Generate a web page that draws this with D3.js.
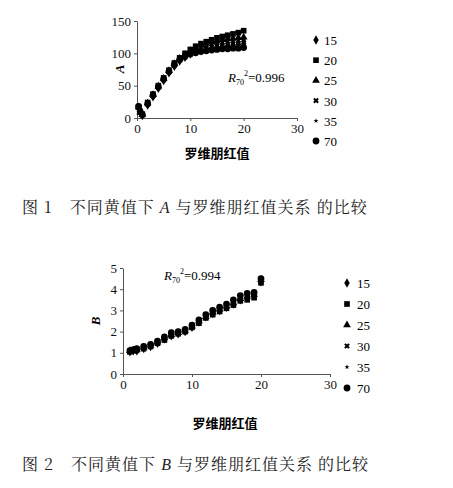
<!DOCTYPE html>
<html><head><meta charset="utf-8">
<script src="https://cdn.jsdelivr.net/npm/d3@7"></script>
<style>body{margin:0;background:#fff}</style></head>
<body><svg id="c" width="453" height="488"></svg>
<script>
const seriesNames = ['15', '20', '25', '30', '35', '70'];
const xA = [0.3, 0.6, 1, 2, 3, 4, 5, 6, 7, 8, 9, 10, 11, 12, 13, 14, 15, 16, 17, 18, 19, 20];
const A15 = [16, 9, 4, 20, 33, 46, 58, 70, 80, 88, 94, 99, 102, 104, 106, 108, 110, 111, 112, 113, 114, 115];
const A20 = [17, 10, 6, 24, 37, 50, 62, 74, 85, 93, 100, 106, 111, 115, 118, 121, 124, 126, 128, 130, 132, 135];
const A25 = [17, 9, 5, 23, 36, 49, 61, 73, 84, 92, 98, 104, 108, 112, 115, 117, 119, 121, 122, 123, 124, 125];
const A30 = [16, 9, 5, 22, 35, 48, 60, 72, 83, 91, 97, 102, 106, 109, 112, 114, 116, 117, 118, 119, 120, 121];
const A35 = [17, 10, 5, 21, 34, 47, 59, 71, 82, 90, 96, 101, 104, 107, 109, 111, 112, 113, 114, 115, 116, 117];
const A70 = [18, 10, 5, 22, 35, 48, 60, 72, 82, 90, 95, 99, 101, 103, 104, 105, 106, 107, 107, 108, 108, 109];
const xB = [1, 1.5, 2, 3, 4, 5, 6, 7, 8, 9, 10, 11, 12, 13, 14, 15, 16, 17, 18, 19, 20];
const B15 = [1.05, 1.1, 1.1, 1.2, 1.3, 1.45, 1.65, 1.8, 1.9, 2.0, 2.2, 2.45, 2.7, 2.85, 3.0, 3.15, 3.3, 3.5, 3.6, 3.7, 4.35];
const B20 = [1.05, 1.1, 1.15, 1.2, 1.3, 1.45, 1.6, 1.8, 1.9, 2.0, 2.2, 2.4, 2.65, 2.8, 2.95, 3.1, 3.25, 3.45, 3.5, 3.6, 4.3];
const B25 = [1.1, 1.1, 1.15, 1.25, 1.35, 1.5, 1.7, 1.85, 1.95, 2.05, 2.25, 2.5, 2.7, 2.9, 3.05, 3.2, 3.35, 3.55, 3.65, 3.75, 4.45];
const B30 = [1.05, 1.1, 1.1, 1.2, 1.3, 1.45, 1.65, 1.8, 1.9, 2.0, 2.2, 2.45, 2.65, 2.85, 3.0, 3.15, 3.3, 3.5, 3.6, 3.7, 4.35];
const B35 = [1.1, 1.15, 1.15, 1.25, 1.35, 1.5, 1.7, 1.85, 1.95, 2.05, 2.25, 2.5, 2.75, 2.9, 3.05, 3.2, 3.35, 3.55, 3.7, 3.8, 4.4];
const B70 = [1.1, 1.15, 1.2, 1.3, 1.4, 1.55, 1.75, 1.95, 2.0, 2.1, 2.3, 2.55, 2.8, 3.0, 3.15, 3.3, 3.5, 3.7, 3.8, 3.85, 4.5];
const xTicks = [0, 10, 20, 30];
const yTicksA = [0, 50, 100, 150];
const yTicksB = [0, 1, 2, 3, 4, 5];

const svg = d3.select('#c');
const shapes = [d3.symbolDiamond, d3.symbolSquare, d3.symbolTriangle, d3.symbolCross, d3.symbolStar, d3.symbolCircle];
const sizes = [26, 32, 26, 20, 8, 36];
const serif = '"Liberation Serif","Noto Sans CJK SC",serif';

function marker(g, i, x, y) {
  g.append('path').attr('d', d3.symbol(shapes[i], sizes[i])())
    .attr('transform', `translate(${x},${y})` + (i === 3 ? ' rotate(45)' : ''))
    .attr('fill', '#000');
}

function chart(o) {
  const g = svg.append('g');
  const x = d3.scaleLinear().domain([0, 30]).range([o.x0, o.x1]);
  const y = d3.scaleLinear().domain(o.yDom).range([o.y0, o.y1]);
  const ax = g.append('g').attr('transform', `translate(0,${o.y0})`)
    .call(d3.axisBottom(x).tickValues(xTicks).tickSize(3).tickSizeOuter(0).tickFormat(d3.format('d')));
  const ay = g.append('g').attr('transform', `translate(${o.x0},0)`)
    .call(d3.axisLeft(y).tickValues(o.yTicks).tickSize(3).tickSizeOuter(0).tickFormat(d3.format('d')));
  [ax, ay].forEach(a => {
    a.selectAll('path,line').attr('stroke', '#555');
    a.selectAll('text').attr('font-family', serif).attr('font-size', 13).attr('fill', '#111');
  });
  o.series.forEach((s, i) => {
    s.forEach((v, j) => marker(g, i, x(o.xs[j]), y(v)));
  });
  g.append('text').attr('transform', `translate(${o.yl[0]},${o.yl[1]}) rotate(-90)`)
    .attr('text-anchor', 'middle').attr('font-family', serif).attr('font-style', 'italic')
    .attr('font-weight', 'bold').attr('font-size', 13).text(o.yName);
  g.append('text').attr('x', o.xt[0]).attr('y', o.xt[1]).attr('text-anchor', 'middle')
    .attr('font-family', '"Noto Sans CJK SC"').attr('font-weight', 'bold').attr('font-size', 13).text('罗维朋红值');
  const r = g.append('text').attr('x', o.r[0]).attr('y', o.r[1]).attr('font-family', serif).attr('font-size', 13);
  r.append('tspan').attr('font-style', 'italic').text('R');
  r.append('tspan').attr('font-size', 8).attr('dy', 3).text('70');
  r.append('tspan').attr('font-size', 8).attr('dy', -9).text('2');
  r.append('tspan').attr('dy', 6).text('=' + o.rv);
  seriesNames.forEach((n, i) => {
    const ly = o.lg[1] + i * o.lg[3];
    marker(g, i, o.lg[0], ly);
    g.append('text').attr('x', o.lg[2]).attr('y', ly + 5).attr('font-family', serif)
      .attr('font-size', 13).text(n);
  });
}

chart({x0: 137, x1: 297, y0: 118, y1: 21, yDom: [0, 150], yTicks: yTicksA, xs: xA,
  series: [A15, A20, A25, A30, A35, A70], yName: 'A', yl: [124, 69], xt: [217, 158],
  r: [228, 82], rv: '0.996', lg: [316, 40, 324, 20.2]});
chart({x0: 123, x1: 330, y0: 374, y1: 268, yDom: [0, 5], yTicks: yTicksB, xs: xB,
  series: [B15, B20, B25, B30, B35, B70], yName: 'B', yl: [100, 321], xt: [225, 428],
  r: [164, 280], rv: '0.994', lg: [347, 283, 357, 21]});

const cap = '"Noto Serif CJK SC","Noto Sans CJK SC",serif';
[[213, 'A', '图 1'], [470, 'B', '图 2']].forEach(([yy, v, f]) => {
  const t = svg.append('text').attr('x', 22).attr('y', yy).attr('font-family', cap)
    .attr('font-size', 16).attr('letter-spacing', 1).attr('fill', '#222');
  t.append('tspan').text(f + '　不同黄值下 ');
  t.append('tspan').attr('font-family', serif).attr('font-style', 'italic').text(v);
  t.append('tspan').text(' 与罗维朋红值关系 的比较');
});
</script></body></html>
